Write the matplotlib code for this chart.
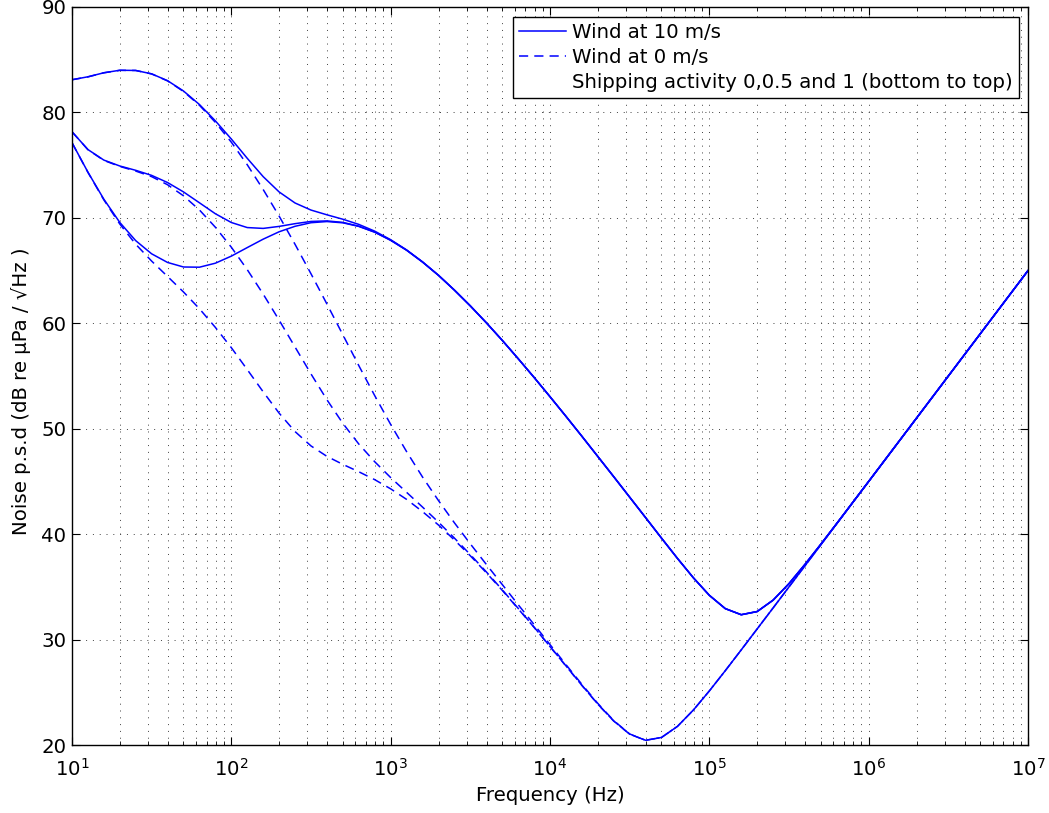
import numpy as np
import matplotlib
matplotlib.use("Agg")
import matplotlib.pyplot as plt
from matplotlib.lines import Line2D

# frequency grid, 10 points per decade from 10 Hz to 10 MHz
freq = np.logspace(1, 7, 61)

# noise p.s.d (dB re uPa/sqrt(Hz)), wind 10 m/s, shipping 0 / 0.5 / 1
w10_s0 = [77.14, 74.34, 71.77, 69.57, 67.84, 66.59, 65.77, 65.34, 65.32, 65.70,
          66.37, 67.18, 67.98, 68.68, 69.20, 69.54, 69.65, 69.53, 69.19, 68.64,
          67.87, 66.93, 65.81, 64.55, 63.15, 61.65, 60.06, 58.39, 56.65, 54.87,
          53.04, 51.18, 49.29, 47.37, 45.45, 43.51, 41.57, 39.62, 37.70, 35.86,
          34.20, 32.94, 32.36, 32.66, 33.74, 35.31, 37.13, 39.05, 41.02, 43.01,
          45.00, 47.00, 49.00, 51.00, 53.00, 55.00, 57.00, 59.00, 61.00, 63.00,
          65.00]
w10_s05 = [78.17, 76.48, 75.48, 74.92, 74.51, 74.03, 73.35, 72.46, 71.43, 70.39,
           69.56, 69.08, 69.00, 69.19, 69.45, 69.66, 69.71, 69.57, 69.21, 68.65,
           67.88, 66.94, 65.81, 64.55, 63.15, 61.65, 60.06, 58.39, 56.65, 54.87,
           53.04, 51.18, 49.29, 47.37, 45.45, 43.51, 41.57, 39.62, 37.70, 35.86,
           34.20, 32.94, 32.36, 32.66, 33.74, 35.31, 37.13, 39.05, 41.02, 43.01,
           45.00, 47.00, 49.00, 51.00, 53.00, 55.00, 57.00, 59.00, 61.00, 63.00,
           65.00]
w10_s1 = [83.10, 83.38, 83.76, 84.00, 83.98, 83.66, 83.01, 82.03, 80.75, 79.20,
          77.48, 75.65, 73.91, 72.46, 71.41, 70.74, 70.29, 69.87, 69.38, 68.74,
          67.93, 66.96, 65.83, 64.56, 63.15, 61.65, 60.06, 58.39, 56.65, 54.87,
          53.04, 51.18, 49.29, 47.37, 45.45, 43.51, 41.57, 39.62, 37.70, 35.86,
          34.20, 32.94, 32.36, 32.66, 33.74, 35.31, 37.13, 39.05, 41.02, 43.01,
          45.00, 47.00, 49.00, 51.00, 53.00, 55.00, 57.00, 59.00, 61.00, 63.00,
          65.00]

# same for wind 0 m/s
w0_s0 = [77.13, 74.32, 71.71, 69.42, 67.50, 65.90, 64.44, 62.97, 61.38, 59.61,
         57.69, 55.61, 53.50, 51.48, 49.73, 48.37, 47.38, 46.62, 45.92, 45.17,
         44.30, 43.30, 42.14, 40.87, 39.45, 37.95, 36.35, 34.68, 32.93, 31.16,
         29.34, 27.50, 25.66, 23.88, 22.28, 21.03, 20.45, 20.72, 21.77, 23.32,
         25.13, 27.05, 29.02, 31.01, 33.00, 35.00, 37.00, 39.00, 41.00, 43.00,
         45.00, 47.00, 49.00, 51.00, 53.00, 55.00, 57.00, 59.00, 61.00, 63.00,
         65.00]
w0_s05 = [78.17, 76.47, 75.45, 74.88, 74.44, 73.91, 73.14, 72.09, 70.75, 69.11,
          67.22, 65.09, 62.77, 60.30, 57.75, 55.20, 52.75, 50.51, 48.55, 46.87,
          45.37, 43.97, 42.57, 41.14, 39.63, 38.06, 36.43, 34.73, 32.97, 31.19,
          29.35, 27.51, 25.67, 23.88, 22.28, 21.03, 20.45, 20.72, 21.77, 23.32,
          25.13, 27.05, 29.02, 31.01, 33.00, 35.00, 37.00, 39.00, 41.00, 43.00,
          45.00, 47.00, 49.00, 51.00, 53.00, 55.00, 57.00, 59.00, 61.00, 63.00,
          65.00]
w0_s1 = [83.10, 83.37, 83.76, 83.99, 83.98, 83.65, 82.99, 81.99, 80.68, 79.06,
         77.18, 75.04, 72.69, 70.17, 67.49, 64.70, 61.83, 58.91, 55.99, 53.14,
         50.41, 47.83, 45.42, 43.19, 41.08, 39.08, 37.14, 35.23, 33.32, 31.43,
         29.53, 27.63, 25.76, 23.95, 22.32, 21.05, 20.45, 20.72, 21.77, 23.32,
         25.13, 27.05, 29.02, 31.01, 33.00, 35.00, 37.00, 39.00, 41.00, 43.00,
         45.00, 47.00, 49.00, 51.00, 53.00, 55.00, 57.00, 59.00, 61.00, 63.00,
         65.00]

legend_labels = ['Wind at 10 m/s', 'Wind at 0 m/s',
                 'Shipping activity 0,0.5 and 1 (bottom to top)']

plt.rcParams['font.family'] = 'DejaVu Sans'
plt.rcParams['font.size'] = 14.2

fig = plt.figure(figsize=(10.49, 8.13), dpi=100)
ax = fig.add_axes([0.0686, 0.0836, 0.9114, 0.9078])

dash = (0, (6, 4))
for y in (w10_s0, w10_s05, w10_s1):
    ax.semilogx(freq, y, color='b', lw=1.1)
for y in (w0_s0, w0_s05, w0_s1):
    ax.semilogx(freq, y, color='b', lw=1.1, ls=dash)

ax.set_xlim(1e1, 1e7)
ax.set_ylim(20, 90)
ax.set_yticks(np.arange(20, 91, 10))

# matlab-like dotted grid, minor lines only along x
ax.grid(True, which='major', color='0.25', ls=(0, (1, 6)), lw=0.7)
ax.grid(True, which='minor', axis='x', color='0.25', ls=(0, (1, 6)), lw=0.7)
ax.tick_params(which='both', direction='in', top=True, right=True)
ax.tick_params(which='major', length=6, width=0.8)
ax.tick_params(which='minor', length=3, width=0.6)
ax.tick_params(axis='x', which='major', pad=9)
ax.tick_params(axis='y', which='major', pad=4)
for s in ax.spines.values():
    s.set_linewidth(1.0)

ax.set_xlabel('Frequency (Hz)', labelpad=5)
ax.set_ylabel('Noise p.s.d (dB re μPa / √Hz )')
ax.yaxis.set_label_coords(-0.043, 0.48)

handles = [Line2D([], [], color='b', lw=1.1),
           Line2D([], [], color='b', lw=1.1, ls=dash),
           Line2D([], [], color='none')]
leg = ax.legend(handles, legend_labels, loc='upper right',
                bbox_to_anchor=(0.9906, 0.9864), borderaxespad=0,
                fancybox=False, framealpha=1, edgecolor='k',
                handlelength=2.4, handletextpad=0.3, labelspacing=0.3,
                borderpad=0.3)
leg.get_frame().set_linewidth(1.0)

fig.savefig('out.png', dpi=100)
